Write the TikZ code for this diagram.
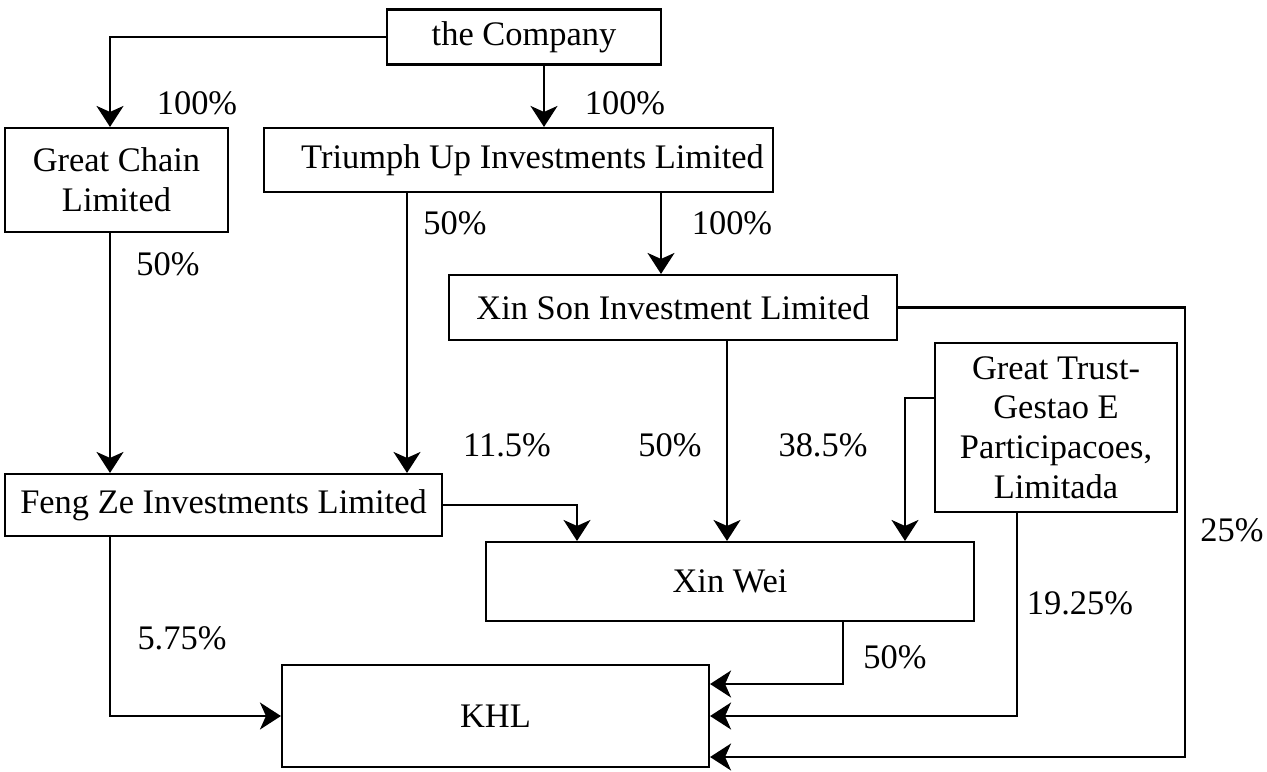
\documentclass[tikz,border=0pt]{standalone}
\usepackage{fontspec}
\setmainfont{Liberation Serif}
\usetikzlibrary{arrows.meta}
\begin{document}
\begin{tikzpicture}[x=0.02cm,y=-0.02cm,
  every node/.style={font=\fontsize{19.6}{22.6}\selectfont},
  entity/.style={draw,line width=1.2pt,inner sep=0pt,align=center},
  pct/.style={inner sep=0pt},
  link/.style={draw,line width=1.2pt,-{Stealth[length=0.42cm,width=0.54cm,inset=0.12cm]}}]
\useasboundingbox (0,0) rectangle (1267,771);
% holding entities
\node[entity,minimum width=274*0.02cm,minimum height=55*0.02cm] (co) at (524,37) {the Company};
\node[entity,minimum width=223*0.02cm,minimum height=104*0.02cm] (gc) at (116.5,180) {Great Chain\\Limited};
\node[entity,minimum width=509*0.02cm,minimum height=64*0.02cm] (tu) at (518.5,160) {\hspace*{16pt}Triumph Up Investments Limited};
\node[entity,minimum width=448*0.02cm,minimum height=65*0.02cm] (xs) at (673,307.5) {Xin Son Investment Limited};
\node[entity,minimum width=242*0.02cm,minimum height=169*0.02cm] (gt) at (1056,427.5) {Great Trust-\\Gestao E\\Participacoes,\\Limitada};
\node[entity,minimum width=437*0.02cm,minimum height=62*0.02cm] (fz) at (223.5,505) {Feng Ze Investments Limited};
\node[entity,minimum width=488*0.02cm,minimum height=79*0.02cm] (xw) at (730,581.5) {Xin Wei};
\node[entity,minimum width=427*0.02cm,minimum height=102*0.02cm] (khl) at (495.5,716) {KHL};
% ownership links
\draw[link] (co.west) -| (gc.north -| 110,0);
\draw[link] (co.south -| 544,0) -- (tu.north -| 544,0);
\draw[link] (gc.south -| 110,0) -- (fz.north -| 110,0);
\draw[link] (tu.south -| 407,0) -- (fz.north -| 407,0);
\draw[link] (tu.south -| 661,0) -- (xs.north -| 661,0);
\draw[link] (xs.south -| 727,0) -- (xw.north -| 727,0);
\draw[link] (fz.east) -| (xw.north -| 577,0);
\draw[link] (gt.west |- 0,398) -| (xw.north -| 905,0);
\draw[link] (fz.south -| 110,0) |- (khl.west |- 0,716);
\draw[link] (xw.south -| 843,0) |- (khl.east |- 0,684);
\draw[link] (gt.south -| 1017,0) |- (khl.east |- 0,716);
\draw[link] (xs.east) -- (1185,307.5) |- (khl.east |- 0,757);
% shares
\node[pct] at (197,103) {100\%};
\node[pct] at (625,103) {100\%};
\node[pct] at (168,264) {50\%};
\node[pct] at (455,223) {50\%};
\node[pct] at (732,223) {100\%};
\node[pct] at (507,445) {11.5\%};
\node[pct] at (670,445) {50\%};
\node[pct] at (823,445) {38.5\%};
\node[pct] at (1232,530) {25\%};
\node[pct] at (182,638) {5.75\%};
\node[pct] at (1080,603) {19.25\%};
\node[pct] at (895,657) {50\%};
\end{tikzpicture}
\end{document}
